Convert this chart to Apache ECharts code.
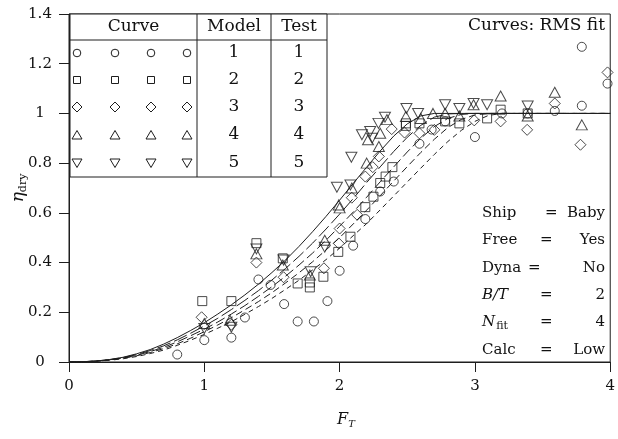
<!DOCTYPE html>
<html><head><meta charset="utf-8">
<script src="https://cdn.jsdelivr.net/npm/echarts@6/dist/echarts.min.js"></script>
<style>html,body{margin:0;padding:0;background:#fff}#c{width:618px;height:439px}</style>
</head><body><div id="c"></div>
<script>
// ---- data ----
const xTicks = [0, 1, 2, 3, 4];
const yTicks = [0, 0.2, 0.4, 0.6, 0.8, 1, 1.2, 1.4];

const circleData = [[0.80,0.03],[1.00,0.088],[1.20,0.098],[1.30,0.179],[1.40,0.332],[1.49,0.31],[1.59,0.233],[1.69,0.163],[1.81,0.163],[1.91,0.245],[2.00,0.367],[2.10,0.468],[2.19,0.575],[2.30,0.686],[2.40,0.726],[2.59,0.878],[2.68,0.935],[2.78,0.968],[3.00,0.905],[3.20,1.0],[3.39,1.0],[3.59,1.01],[3.79,1.268],[3.79,1.031],[3.98,1.12]];
const squareData = [[0.985,0.245],[1.20,0.245],[1.385,0.478],[1.58,0.417],[1.69,0.316],[1.78,0.32],[1.78,0.30],[1.88,0.343],[1.99,0.443],[2.08,0.504],[2.19,0.623],[2.25,0.665],[2.30,0.72],[2.34,0.746],[2.39,0.784],[2.49,0.96],[2.49,0.95],[2.59,0.96],[2.78,0.968],[2.885,0.96],[3.09,0.98],[3.19,1.015],[3.39,1.0]];
const diamondData = [[0.98,0.18],[1.20,0.15],[1.385,0.40],[1.586,0.341],[1.884,0.377],[1.994,0.477],[2.0,0.537],[2.09,0.661],[2.13,0.592],[2.19,0.746],[2.245,0.784],[2.29,0.827],[2.385,0.937],[2.48,0.923],[2.59,0.92],[2.70,0.934],[2.995,0.972],[3.19,0.968],[3.386,0.934],[3.59,1.04],[3.78,0.874],[3.98,1.165]];
const triUpData = [[1.0,0.155],[1.19,0.168],[1.385,0.435],[1.58,0.39],[1.78,0.35],[1.89,0.49],[1.994,0.632],[2.0,0.62],[2.09,0.70],[2.2,0.80],[2.21,0.894],[2.29,0.867],[2.30,0.92],[2.35,0.975],[2.49,0.988],[2.60,0.98],[2.69,1.0],[2.78,1.0],[2.885,0.99],[2.99,1.035],[3.19,1.07],[3.39,0.99],[3.59,1.085],[3.79,0.954]];
const triDownData = [[1.0,0.135],[1.2,0.14],[1.385,0.455],[1.586,0.41],[1.786,0.363],[1.89,0.462],[1.98,0.703],[2.087,0.824],[2.08,0.712],[2.165,0.914],[2.24,0.90],[2.226,0.927],[2.287,0.96],[2.335,0.985],[2.494,1.02],[2.58,1.0],[2.78,1.035],[2.885,1.02],[2.99,1.04],[3.09,1.035],[3.39,1.03]];

const curveX = [0,0.1,0.2,0.3,0.4,0.5,0.6,0.7,0.8,0.9,1.0,1.1,1.2,1.3,1.4,1.5,1.6,1.7,1.8,1.9,2.0,2.1,2.2,2.3,2.4,2.5,2.6,2.7,2.8,2.9,3.0,3.1,3.2,4.0];
const curve1 = [0,.001,.004,.010,.019,.033,.050,.072,.098,.127,.158,.193,.230,.270,.313,.360,.410,.465,.524,.586,.651,.718,.784,.849,.909,.958,.990,1,1,1,1,1,1,1];
const curve2 = [0,.001,.004,.009,.018,.030,.046,.065,.089,.116,.145,.176,.211,.248,.287,.330,.376,.425,.478,.535,.595,.657,.722,.785,.847,.904,.952,.985,.998,1,1,1,1,1];
const curve3 = [0,.001,.004,.009,.016,.027,.042,.059,.081,.106,.132,.161,.193,.227,.264,.303,.345,.390,.438,.490,.546,.603,.663,.725,.785,.845,.900,.947,.980,.996,1,1,1,1];
const curve4 = [0,.001,.003,.008,.015,.025,.038,.054,.073,.096,.122,.149,.178,.210,.243,.279,.318,.359,.403,.451,.500,.555,.611,.669,.728,.786,.843,.896,.943,.976,.994,1,1,1];
const curve5 = [0,.001,.003,.007,.013,.022,.034,.048,.067,.088,.111,.136,.162,.192,.223,.256,.292,.329,.370,.412,.458,.508,.557,.612,.668,.724,.780,.835,.887,.932,.968,.992,1,1];

const tableHeader = ['Curve', 'Model', 'Test'];
const tableModel = ['1','2','3','4','5'];
const tableTest = ['1','2','3','4','5'];
const infoLabels = ['Ship','Free','Dyna','B/T','N_fit','Calc'];
const infoValues = ['Baby','Yes','No','2','4','Low'];
const topNote = 'Curves: RMS fit';

// ---- drawing ----
const FONT = 'DejaVu Serif';
const INK = '#1e1e1e';
const chart = echarts.init(document.getElementById('c'));

function markerSeries(data, symbol, size, rotate) {
  return {type:'scatter', data, symbol, symbolSize:size, symbolRotate:rotate||0,
    itemStyle:{color:'rgba(0,0,0,0)', borderColor:INK, borderWidth:1}, z:3, silent:true};
}
function curveSeries(ys, dash) {
  return {type:'line', data: curveX.map((x,i)=>[x, ys[i]]), showSymbol:false, symbol:'none',
    smooth:false, lineStyle:{color:INK, width:1, type:dash}, z:2, silent:true};
}

// table geometry
const tL = 70, tR = 327, tTop = 14, tHead = 40, tBot = 177, c1 = 197, c2 = 271;
const rowY = [53, 80, 107, 135, 163];
const markX = [77, 115, 151, 187];
const shapes = ['circle','rect','diamond','up','down'];
const g = [];
const ln = (x1,y1,x2,y2)=>({type:'line', shape:{x1,y1,x2,y2}, style:{stroke:INK, lineWidth:1}, z:10});
g.push({type:'rect', shape:{x:tL, y:tTop, width:tR-tL, height:tBot-tTop}, style:{fill:'#fff', stroke:INK, lineWidth:1}, z:9});
g.push(ln(tL,tHead,tR,tHead), ln(c1,tTop,c1,tBot), ln(c2,tTop,c2,tBot));
const txt = (x,y,text,extra)=>({type:'text', x, y, z:11, style:Object.assign({text, font:'15px "'+FONT+'"', fill:'#111', align:'center', verticalAlign:'middle'}, extra||{})});
const TF = '17px "'+FONT+'"';
g.push(txt((tL+c1)/2, 27, tableHeader[0], {font:TF}), txt((c1+c2)/2, 27, tableHeader[1], {font:TF}), txt((c2+tR)/2, 27, tableHeader[2], {font:TF}));
rowY.forEach((y,i)=>{
  g.push(txt((c1+c2)/2, y, tableModel[i], {font:TF}), txt((c2+tR)/2, y, tableTest[i], {font:TF}));
  markX.forEach(x=>{
    const st = {fill:'rgba(0,0,0,0)', stroke:INK, lineWidth:1};
    const s = shapes[i];
    if (s==='circle') g.push({type:'circle', shape:{cx:x, cy:y, r:3.8}, style:st, z:11});
    else if (s==='rect') g.push({type:'rect', shape:{x:x-3.5, y:y-3.5, width:7, height:7}, style:st, z:11});
    else if (s==='diamond') g.push({type:'polygon', shape:{points:[[x,y-5],[x+5,y],[x,y+5],[x-5,y]]}, style:st, z:11});
    else if (s==='up') g.push({type:'polygon', shape:{points:[[x,y-4.5],[x+5,y+4],[x-5,y+4]]}, style:st, z:11});
    else g.push({type:'polygon', shape:{points:[[x,y+4.5],[x+5,y-4],[x-5,y-4]]}, style:st, z:11});
  });
});
// top-right note
g.push(txt(605, 26, topNote, {align:'right', font:'17px "'+FONT+'"'}));
// info block
const infoY = [213, 240, 268, 295, 322, 350];
const eqX = [545, 540, 528, 540, 540, 540];
infoLabels.forEach((lab,i)=>{
  let el;
  if (lab === 'B/T') el = txt(482, infoY[i], 'B/T', {align:'left', font:'italic 15px "'+FONT+'"'});
  else if (lab === 'N_fit') el = {type:'text', x:482, y:infoY[i], z:11, style:{text:'{a|N}{b|fit}', align:'left', verticalAlign:'middle', fill:'#111',
      rich:{a:{font:'italic 15px "'+FONT+'"', fill:'#111'}, b:{font:'11px "'+FONT+'"', fill:'#111', padding:[8,0,0,1]}}}};
  else el = txt(482, infoY[i], lab, {align:'left'});
  g.push(el);
  g.push(txt(eqX[i], infoY[i], '=', {align:'left'}));
  g.push(txt(605, infoY[i], infoValues[i], {align:'right'}));
});
// axis names
g.push({type:'text', x:19, y:188, rotation:Math.PI/2, z:11, style:{text:'{a|η}{b|dry}', align:'center', verticalAlign:'middle', fill:'#111',
  rich:{a:{font:'italic 17px "'+FONT+'"', fill:'#111'}, b:{font:'11px "'+FONT+'"', fill:'#111', padding:[9,0,0,0]}}}});
g.push({type:'text', x:346, y:420, z:11, style:{text:'{a|F}{b|T}', align:'center', verticalAlign:'middle', fill:'#111',
  rich:{a:{font:'italic 16px "'+FONT+'"', fill:'#111'}, b:{font:'italic 10px "'+FONT+'"', fill:'#111', padding:[9,0,0,0]}}}});

const option = {
  animation:false,
  backgroundColor:'#fff',
  grid:{left:69, right:3, top:14, bottom:77, show:true, borderColor:INK, borderWidth:1, containLabel:false},
  xAxis:{type:'value', min:xTicks[0], max:xTicks[xTicks.length-1], interval:1,
    axisLine:{show:true, onZero:false, lineStyle:{color:INK, width:1}},
    axisTick:{show:true, inside:false, length:10, lineStyle:{color:INK}},
    axisLabel:{margin:17, color:'#111', fontFamily:FONT, fontSize:15, formatter:v=>String(v)},
    splitLine:{show:false}},
  yAxis:{type:'value', min:yTicks[0], max:yTicks[yTicks.length-1], interval:0.2,
    axisLine:{show:true, onZero:false, lineStyle:{color:INK, width:1}},
    axisTick:{show:true, inside:false, length:10, lineStyle:{color:INK}},
    axisLabel:{margin:29, align:'center', color:'#111', fontFamily:FONT, fontSize:15, formatter:v=>String(+v.toFixed(1))},
    splitLine:{show:false}},
  series:[
    curveSeries(curve1, 'solid'),
    curveSeries(curve2, [14,4]),
    curveSeries(curve3, [10,4]),
    curveSeries(curve4, [7,4]),
    curveSeries(curve5, [5,4]),
    markerSeries(circleData, 'circle', 9),
    markerSeries(squareData, 'rect', 9),
    markerSeries(diamondData, 'diamond', [11,11]),
    markerSeries(triUpData, 'triangle', [11,10]),
    markerSeries(triDownData, 'triangle', [11,10], 180)
  ],
  graphic:{elements:g}
};
chart.setOption(option);
</script></body></html>
